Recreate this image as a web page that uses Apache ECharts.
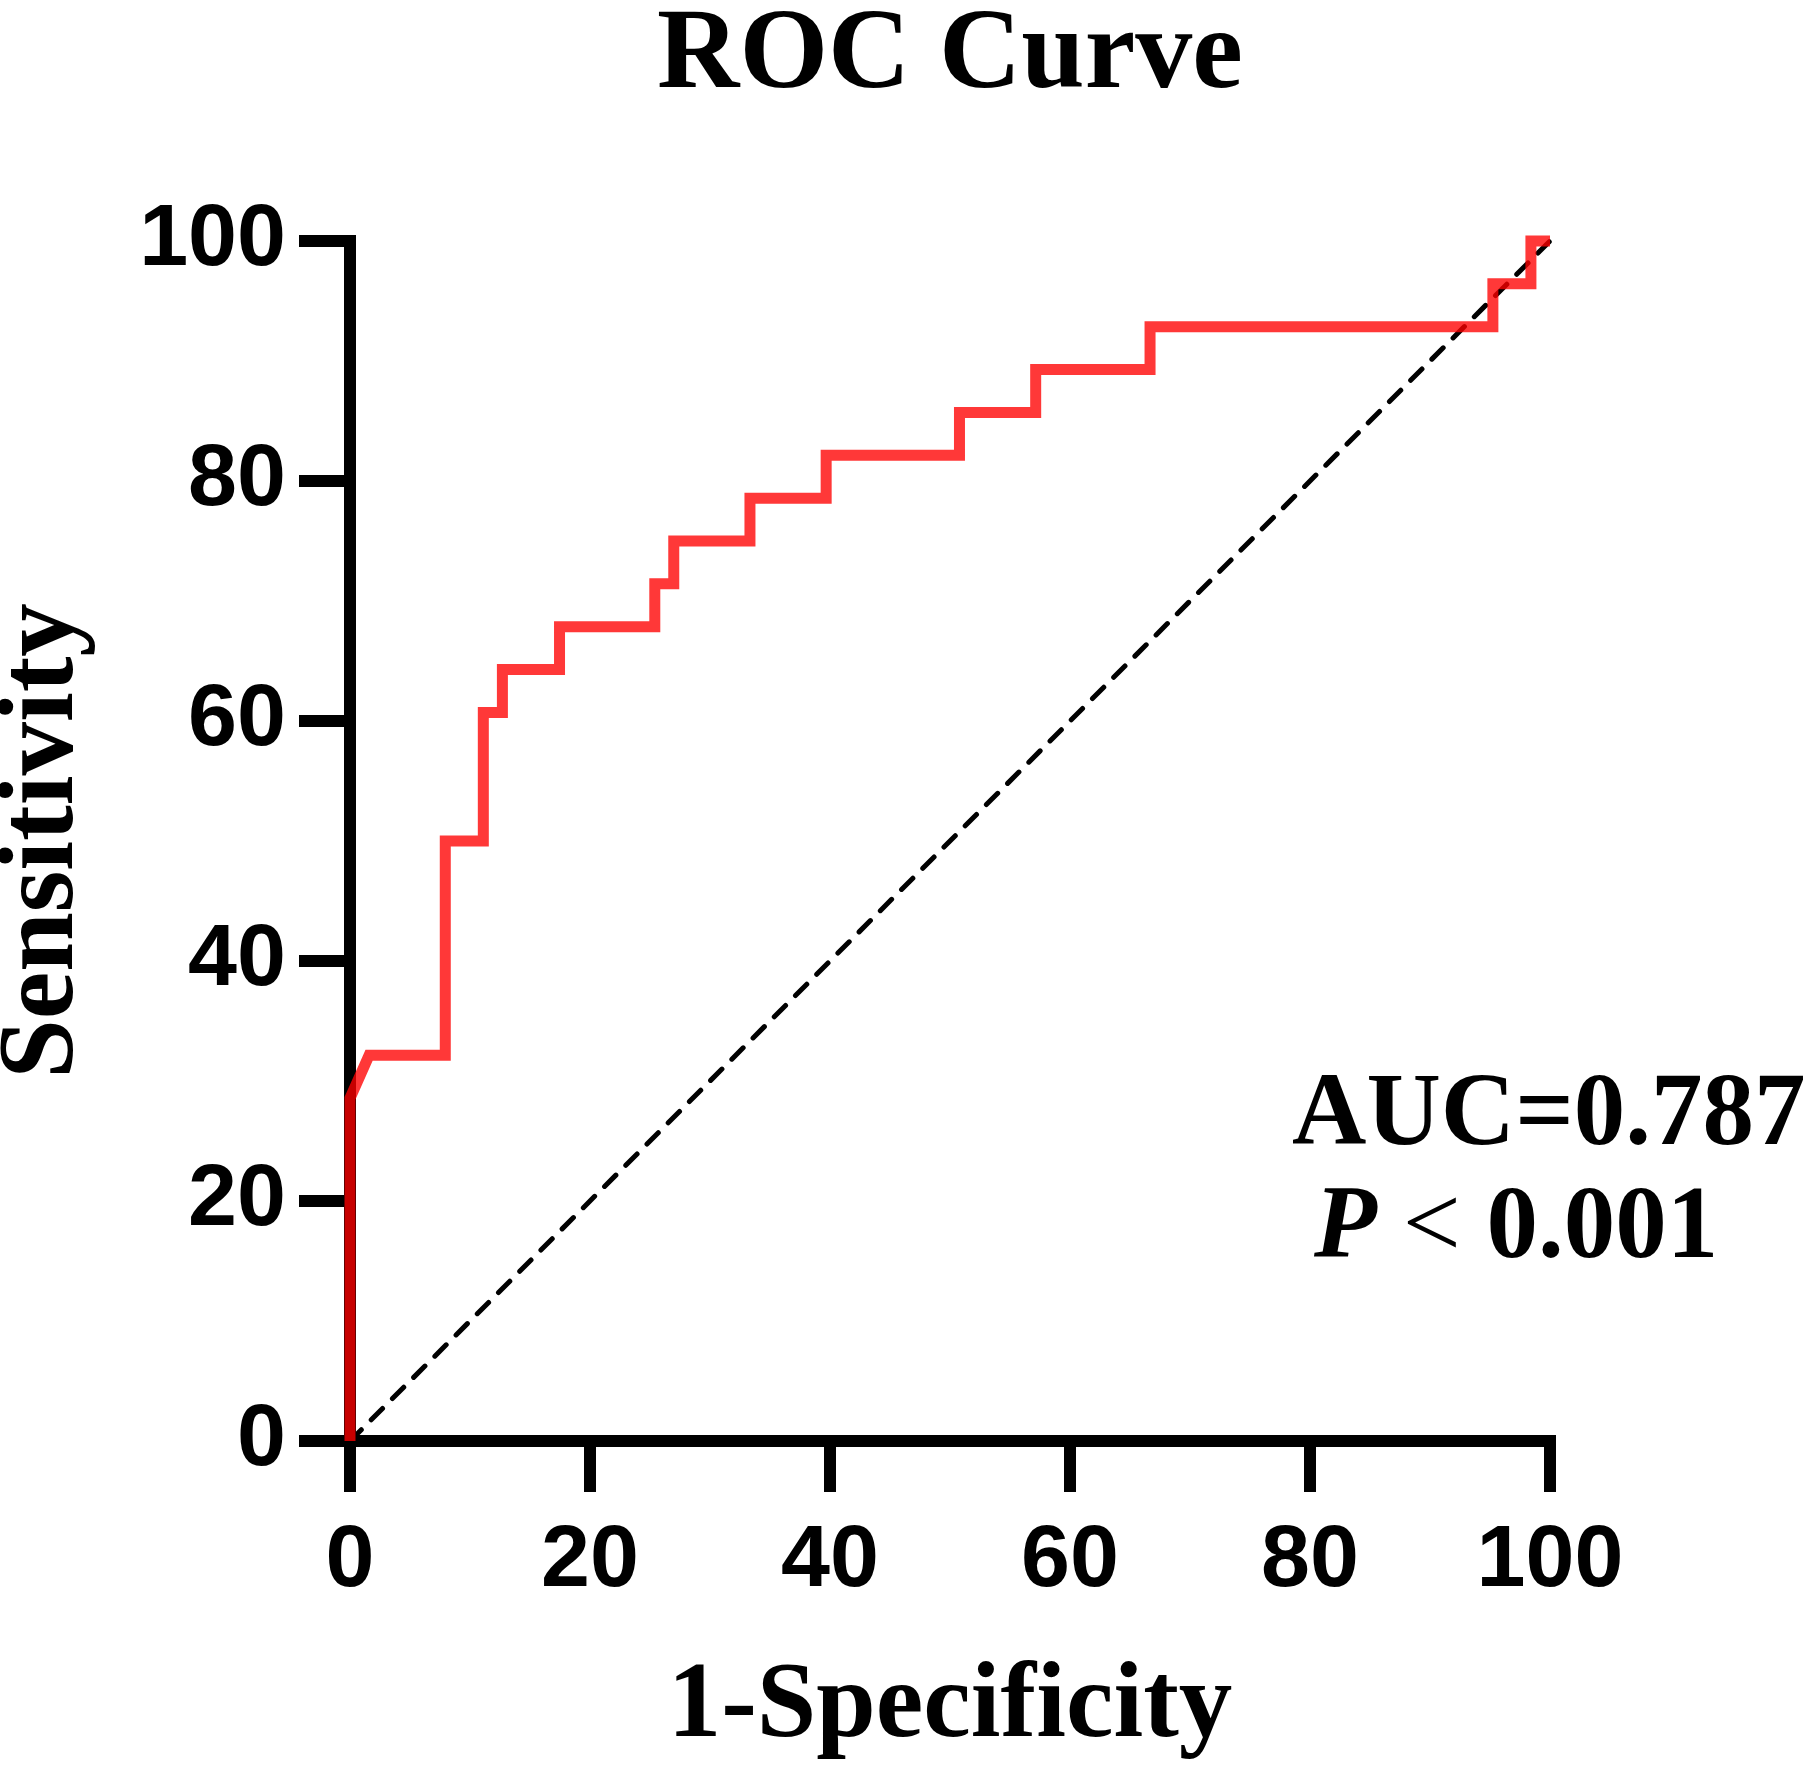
<!DOCTYPE html>
<html>
<head>
<meta charset="utf-8">
<title>ROC Curve</title>
<script src="https://cdn.jsdelivr.net/npm/echarts@6/dist/echarts.min.js"></script>
<style>
  html, body { margin: 0; padding: 0; background: #fff; }
  #chart { width: 1806px; height: 1766px; }
</style>
</head>
<body>
<div id="chart"></div>
<script>
// ROC 曲线数据（1-特异度 / 灵敏度，单位 %）
var fpr = [0, 0, 1.59, 7.94, 7.94, 11.11, 11.11, 12.70, 12.70, 17.46, 17.46, 25.40, 25.40, 26.98, 26.98,
    33.33, 33.33, 39.68, 39.68, 50.79, 50.79, 57.14, 57.14, 66.67, 66.67, 95.24, 95.24, 98.41, 98.41, 100];
var sensitivity = [0, 28.57, 32.14, 32.14, 50.00, 50.00, 60.71, 60.71, 64.29, 64.29, 67.86, 67.86, 71.43, 71.43, 75.00,
    75.00, 78.57, 78.57, 82.14, 82.14, 85.71, 85.71, 89.29, 89.29, 92.86, 92.86, 96.43, 96.43, 100, 100];
// 参考线
var refX = [0, 100];
var refY = [0, 100];
var axisTicks = [0, 20, 40, 60, 80, 100];

var aucText = 'AUC=0.787';
var pText = '< 0.001';

function zip(xs, ys) {
    return xs.map(function (x, i) { return [x, ys[i]]; });
}

var chart = echarts.init(document.getElementById('chart'), null, {renderer: 'canvas'});

var serif = '"Liberation Serif", "Times New Roman", serif';
var sans = '"Liberation Sans", Arial, sans-serif';

var axisCommon = {
    type: 'value',
    min: axisTicks[0],
    max: axisTicks[axisTicks.length - 1],
    interval: axisTicks[1] - axisTicks[0],
    splitLine: {show: false},
    axisLine: {show: true, lineStyle: {color: '#000', width: 12, cap: 'square'}},
    axisTick: {show: true, length: 51, lineStyle: {color: '#000', width: 12}},
    axisLabel: {color: '#000', fontFamily: sans, fontWeight: 'bold', fontSize: 88},
    nameTextStyle: {color: '#000', fontFamily: serif, fontWeight: 'bold', fontSize: 107},
    nameLocation: 'middle'
};

chart.setOption({
    backgroundColor: '#fff',
    animation: false,
    grid: {left: 350, top: 241, width: 1200, height: 1200, outerBoundsMode: 'none', containLabel: false},
    xAxis: echarts.util.merge({
        name: '1-Specificity',
        nameGap: 214,
        axisLabel: {margin: 77}
    }, axisCommon),
    yAxis: echarts.util.merge({
        name: 'Sensitivity',
        nameGap: 252,
        axisLabel: {margin: 64}
    }, axisCommon),
    graphic: [
        {
            type: 'text',
            x: 950,
            y: 58,
            style: {
                text: 'ROC Curve',
                fill: '#000',
                font: 'bold 114px ' + serif,
                align: 'center',
                verticalAlign: 'middle'
            }
        },
        {
            type: 'text',
            x: 1292,
            y: 1117,
            style: {
                text: aucText,
                fill: '#000',
                font: 'bold 103px ' + serif,
                align: 'left',
                verticalAlign: 'middle'
            }
        },
        {
            type: 'text',
            x: 1314,
            y: 1230,
            style: {
                text: '{p|P} {lt|<} {v|0.001}',
                fill: '#000',
                font: 'bold 103px ' + serif,
                align: 'left',
                verticalAlign: 'middle',
                rich: {
                    p: {fontFamily: serif, fontSize: 103, fontWeight: 'bold', fontStyle: 'italic', fill: '#000'},
                    lt: {fontFamily: serif, fontSize: 103, fontWeight: 'normal', fill: '#000'},
                    v: {fontFamily: serif, fontSize: 103, fontWeight: 'bold', fill: '#000'}
                }
            }
        }
    ],
    series: [
        {
            name: 'Reference',
            type: 'line',
            data: zip(refX, refY),
            symbol: 'none',
            clip: false,
            z: 3,
            lineStyle: {color: '#000', width: 5, type: [16, 14], cap: 'round'}
        },
        {
            name: 'ROC',
            type: 'line',
            data: zip(fpr, sensitivity),
            symbol: 'none',
            clip: false,
            z: 4,
            lineStyle: {color: 'rgba(255,0,0,0.78)', width: 11, join: 'miter', cap: 'butt'}
        }
    ]
});
</script>
</body>
</html>
